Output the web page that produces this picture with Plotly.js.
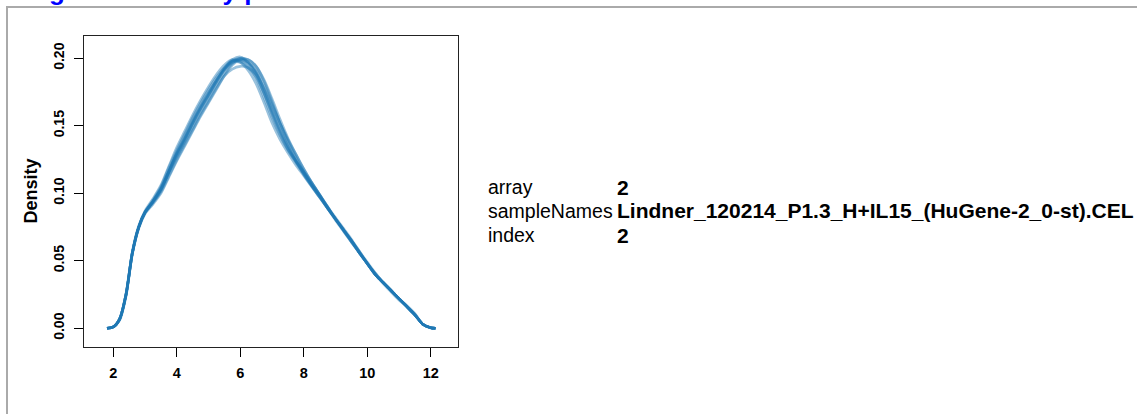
<!DOCTYPE html>
<html>
<head>
<meta charset="utf-8">
<script src="https://cdn.plot.ly/plotly-3.0.1.min.js"></script>
<style>html,body{margin:0;padding:0;background:#fff;}#chart{width:1137px;height:414px;}</style>
</head>
<body>
<div id="chart"></div>
<script>
// Intensity grid (log2 scale) shared by all density curves
const intensity = [1.8,2.0,2.2,2.4,2.6,2.8,3.0,3.25,3.5,3.75,4.0,4.25,4.5,4.75,5.0,5.25,5.5,5.75,6.0,6.25,6.5,6.75,7.0,7.25,7.5,7.75,8.0,8.25,8.5,8.75,9.0,9.25,9.5,9.75,10.0,10.25,10.5,10.75,11.0,11.25,11.5,11.75,12.0,12.15];

// Density values per array
const array1  = [0,0.001,0.007,0.025,0.056,0.075,0.086,0.094,0.103,0.116,0.129,0.140,0.152,0.163,0.173,0.183,0.192,0.198,0.199,0.196,0.189,0.176,0.161,0.147,0.135,0.124,0.115,0.106,0.098,0.089,0.081,0.073,0.065,0.056,0.048,0.040,0.034,0.028,0.022,0.016,0.010,0.003,0.0005,0];
const array2  = [0,0.001,0.007,0.026,0.057,0.076,0.087,0.096,0.106,0.120,0.134,0.146,0.158,0.169,0.179,0.188,0.195,0.199,0.197,0.191,0.181,0.167,0.152,0.140,0.130,0.121,0.113,0.105,0.097,0.089,0.081,0.073,0.065,0.057,0.049,0.041,0.034,0.028,0.022,0.016,0.010,0.003,0.0005,0];
const array3  = [0,0.001,0.006,0.024,0.055,0.074,0.085,0.092,0.100,0.112,0.124,0.135,0.146,0.157,0.167,0.177,0.187,0.195,0.199,0.199,0.194,0.184,0.170,0.155,0.141,0.129,0.118,0.108,0.099,0.089,0.080,0.072,0.064,0.056,0.048,0.040,0.034,0.028,0.022,0.016,0.010,0.003,0.0005,0];
const array4  = [0,0.001,0.007,0.025,0.056,0.075,0.086,0.094,0.104,0.117,0.130,0.142,0.154,0.165,0.175,0.184,0.192,0.197,0.197,0.193,0.186,0.174,0.160,0.146,0.133,0.124,0.116,0.107,0.099,0.090,0.081,0.073,0.065,0.057,0.048,0.040,0.034,0.028,0.022,0.016,0.010,0.003,0.0005,0];
const array5  = [0,0.001,0.007,0.025,0.056,0.075,0.086,0.093,0.102,0.115,0.127,0.138,0.149,0.160,0.170,0.180,0.189,0.196,0.200,0.199,0.194,0.183,0.168,0.152,0.137,0.125,0.114,0.105,0.097,0.089,0.081,0.073,0.065,0.056,0.048,0.040,0.033,0.027,0.021,0.016,0.010,0.003,0.0005,0];
const array6  = [0,0.001,0.007,0.025,0.056,0.075,0.086,0.094,0.103,0.116,0.130,0.141,0.153,0.164,0.174,0.184,0.193,0.199,0.201,0.197,0.188,0.174,0.158,0.144,0.133,0.124,0.116,0.108,0.099,0.090,0.081,0.072,0.064,0.056,0.048,0.040,0.034,0.028,0.022,0.017,0.011,0.003,0.0005,0];
const array7  = [0,0.001,0.007,0.025,0.056,0.075,0.086,0.094,0.103,0.116,0.128,0.139,0.151,0.162,0.172,0.182,0.191,0.197,0.199,0.197,0.191,0.180,0.166,0.152,0.139,0.127,0.116,0.106,0.098,0.090,0.082,0.074,0.066,0.057,0.048,0.040,0.034,0.028,0.022,0.016,0.010,0.003,0.0005,0];
const array8  = [0,0.001,0.007,0.025,0.056,0.075,0.086,0.095,0.105,0.119,0.132,0.144,0.156,0.167,0.177,0.186,0.193,0.198,0.198,0.194,0.185,0.171,0.156,0.143,0.132,0.123,0.114,0.106,0.098,0.089,0.081,0.073,0.064,0.056,0.048,0.040,0.034,0.028,0.022,0.016,0.010,0.003,0.0005,0];
const array9  = [0,0.001,0.006,0.024,0.055,0.074,0.085,0.093,0.101,0.113,0.125,0.136,0.147,0.158,0.168,0.178,0.187,0.192,0.194,0.193,0.188,0.178,0.165,0.152,0.140,0.129,0.118,0.108,0.099,0.090,0.081,0.073,0.065,0.056,0.048,0.041,0.034,0.028,0.022,0.016,0.010,0.003,0.0005,0];
const array10 = [0,0.001,0.007,0.025,0.056,0.075,0.086,0.094,0.103,0.116,0.129,0.140,0.152,0.163,0.173,0.183,0.192,0.198,0.200,0.197,0.190,0.177,0.162,0.148,0.135,0.124,0.115,0.106,0.097,0.089,0.081,0.073,0.065,0.056,0.048,0.040,0.034,0.028,0.022,0.016,0.010,0.003,0.0005,0];

const seriesList = [array1,array2,array3,array4,array5,array6,array7,array8,array9,array10];

// Axis ticks
const xTicks = [2,4,6,8,10,12];
const yTicks = [0,0.05,0.10,0.15,0.20];
const yTickLabels = ['0.00','0.05','0.10','0.15','0.20'];

// Info panel text
const infoLabels = ['array','sampleNames','index'];
const infoValues = ['2','Lindner_120214_P1.3_H+IL15_(HuGene-2_0-st).CEL','2'];
const figureTitle = 'Figure 6: Density plots';

const W = 1137, H = 414;
const px = v => v / W;
const py = v => 1 - v / H;
const FONT = 'Liberation Sans, Arial, Helvetica, sans-serif';

const traces = seriesList.map((ys, i) => ({
  type: 'scatter', mode: 'lines', x: intensity, y: ys,
  line: {color: '#1f77b4', width: 2.6, shape: 'spline', smoothing: 0.8},
  opacity: 0.45, hoverinfo: 'skip', showlegend: false, name: 'array ' + (i + 1)
}));

const annotations = [];
const rowY = [187, 210.5, 235];
infoLabels.forEach((lab, i) => {
  annotations.push({xref: 'paper', yref: 'paper', x: px(486), y: py(rowY[i]), xanchor: 'left', yanchor: 'middle',
    text: lab, showarrow: false, font: {family: FONT, size: 19.5, color: '#000'}});
  annotations.push({xref: 'paper', yref: 'paper', x: px(615), y: py(rowY[i]), xanchor: 'left', yanchor: 'middle',
    text: '<b>' + infoValues[i] + '</b>', showarrow: false, font: {family: FONT, size: 21, color: '#000'}});
});
annotations.push({xref: 'paper', yref: 'paper', x: px(24), y: py(8), xanchor: 'left', yanchor: 'bottom',
  text: '<b>' + figureTitle + '</b>', showarrow: false, font: {family: FONT, size: 26, color: '#0000ff'}});
annotations.push({xref: 'paper', yref: 'paper', x: px(30), y: py(191.5), xanchor: 'center', yanchor: 'middle',
  text: '<b>Density</b>', textangle: -90, showarrow: false, font: {family: FONT, size: 18, color: '#000'}});

const layout = {
  width: W, height: H,
  margin: {l: 0, r: 0, t: 0, b: 0},
  paper_bgcolor: '#fff', plot_bgcolor: '#fff',
  showlegend: false,
  xaxis: {
    domain: [px(84), px(458)], range: [1.076, 12.86],
    tickvals: xTicks, ticks: 'outside', ticklen: 9, tickwidth: 1, tickcolor: '#000',
    showline: true, mirror: true, linecolor: '#222', linewidth: 1.3,
    showgrid: false, zeroline: false, ticklabelstandoff: 3,
    tickfont: {family: FONT, size: 14.5, color: '#000', weight: 'bold'}
  },
  yaxis: {
    domain: [py(347), py(36)], range: [-0.01385, 0.2165],
    tickvals: yTicks, ticktext: yTickLabels, tickangle: -90,
    ticks: 'outside', ticklen: 9, tickwidth: 1, tickcolor: '#000',
    showline: true, mirror: true, linecolor: '#222', linewidth: 1.3,
    showgrid: false, zeroline: false, ticklabelstandoff: 4,
    tickfont: {family: FONT, size: 14, color: '#000', weight: 'bold'}
  },
  shapes: [{type: 'path', xref: 'paper', yref: 'paper',
    path: `M ${px(7)} ${py(430)} L ${px(7)} ${py(7)} L ${px(1150)} ${py(7)}`,
    line: {color: '#aaaaaa', width: 2}}],
  annotations: annotations
};

Plotly.newPlot('chart', traces, layout, {displayModeBar: false, staticPlot: true});
</script>
</body>
</html>
